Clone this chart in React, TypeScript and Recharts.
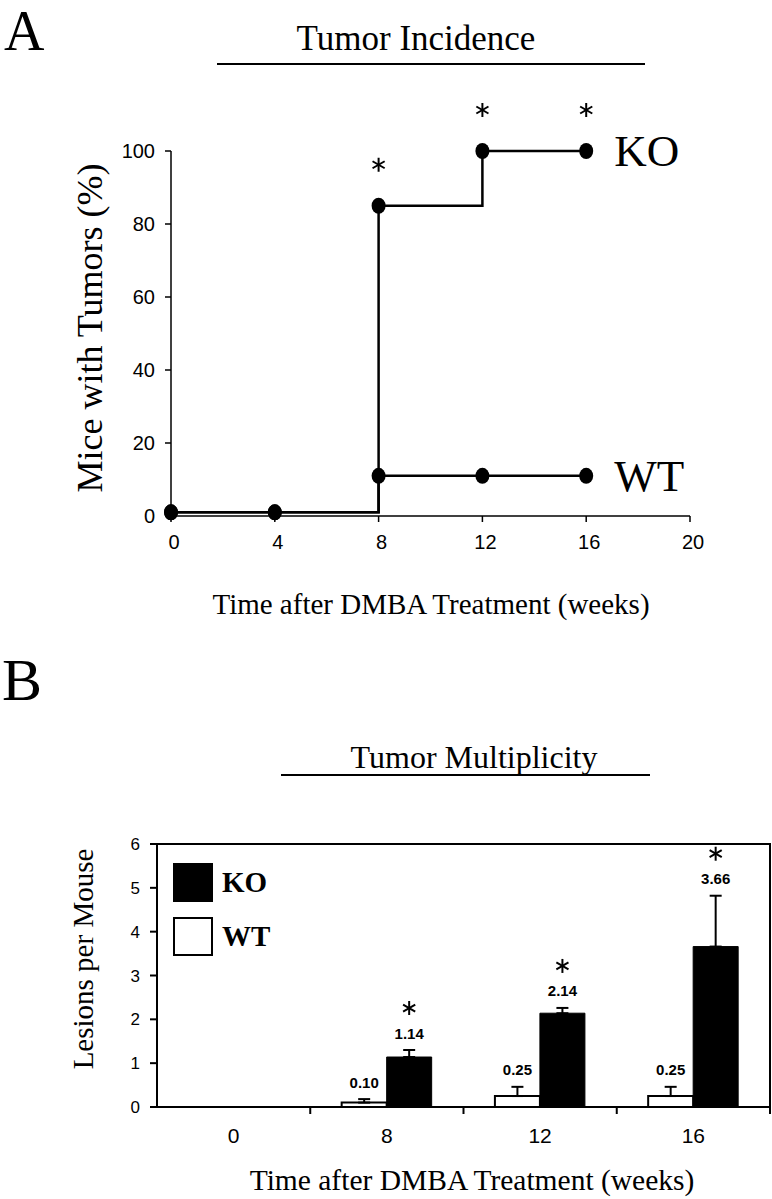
import React from 'react';
import { LineChart, Line, XAxis, YAxis, BarChart, Bar, ErrorBar, LabelList, ReferenceArea } from 'recharts';

// ---------- Panel A data ----------
const weeksA = [0, 4, 8, 12, 16];
const koIncidence = [1, 1, 85, 100, 100];
const wtIncidence = [1, 1, 11, 11, 11];
const koSignificantA = [false, false, true, true, true];
const xTicksA = [0, 4, 8, 12, 16, 20];
const yTicksA = [0, 20, 40, 60, 80, 100];

// ---------- Panel B data ----------
const categoriesB = ['0', '8', '12', '16'];
const koLesions = [0, 1.14, 2.14, 3.66];
const wtLesions = [0, 0.1, 0.25, 0.25];
const koLesionsErr = [0, 0.16, 0.12, 1.16];
const wtLesionsErr = [0, 0.08, 0.21, 0.21];
const koSignificantB = [false, true, true, true];
const yTicksB = [0, 1, 2, 3, 4, 5, 6];
const seriesNames = ['KO', 'WT'];

const dataA = weeksA.map((w, i) => ({ week: w, ko: koIncidence[i], wt: wtIncidence[i] }));
const dataB = categoriesB.map((c, i) => ({
  cat: c,
  wt: wtLesions[i],
  ko: koLesions[i],
  wtErr: [0, wtLesionsErr[i]],
  koErr: [0, koLesionsErr[i]],
}));

const SERIF = '"Liberation Serif", "Times New Roman", serif';
const SANS = '"Liberation Sans", Arial, sans-serif';

// chart B geometry
const B_HEIGHT = 559;
const B_MARGIN = { top: 204, right: 2, bottom: 52, left: 97 };
const B_XAXIS_H = 40;
const B_YMAX = 6;
const B_PX_PER_UNIT = (B_HEIGHT - B_MARGIN.top - B_MARGIN.bottom - B_XAXIS_H) / B_YMAX;

const Asterisk = ({ cx, cy, r = 7, sw = 2 }: any) => (
  <g stroke="#000" strokeWidth={sw}>
    {[90, 30, 150].map((a) => {
      const rad = (a * Math.PI) / 180;
      return (
        <line
          key={a}
          x1={cx - r * Math.cos(rad)}
          y1={cy - r * Math.sin(rad)}
          x2={cx + r * Math.cos(rad)}
          y2={cy + r * Math.sin(rad)}
        />
      );
    })}
  </g>
);

const renderDot = (props: any) => {
  const { cx, cy, index } = props;
  if (cx == null || cy == null) return <g key={index} />;
  return <ellipse key={index} cx={cx} cy={cy} rx={7} ry={8} fill="#000" />;
};

const makeEndLabel = (name: string, sig: boolean[] | null) => (props: any) => {
  const { x, y, value } = props;
  const i = weeksA.indexOf(Number(value));
  return (
    <g>
      {sig && sig[i] && <Asterisk cx={x} cy={y - 41} r={7} sw={2} />}
      {i === weeksA.length - 1 && (
        <text x={x + 28} y={y} dominantBaseline="central" fontFamily={SERIF} fontSize={45} fill="#000">
          {name}
        </text>
      )}
    </g>
  );
};

const makeBarLabel = (vals: number[], errs: number[], sig: boolean[] | null) => (props: any) => {
  const vb = props.viewBox || {};
  const x = props.x ?? vb.x;
  const y = props.y ?? vb.y;
  const width = props.width ?? vb.width;
  const i = categoriesB.indexOf(String(props.value));
  if (i < 0 || !vals[i]) return <g />;
  const errTop = y - errs[i] * B_PX_PER_UNIT;
  const cx = x + width / 2;
  const ly = errTop - 17;
  return (
    <g>
      <text x={cx} y={ly} textAnchor="middle" dominantBaseline="central" fontFamily={SANS} fontWeight="bold" fontSize={15} fill="#000">
        {vals[i].toFixed(2)}
      </text>
      {sig && sig[i] && <Asterisk cx={cx} cy={ly - 25} r={7} sw={2} />}
    </g>
  );
};

const CatTick = (props: any) => {
  const { x, y, payload } = props;
  const off = payload && payload.offset ? payload.offset : 0;
  return (
    <g>
      <line x1={x + off} y1={y - 7} x2={x + off} y2={y} stroke="#000" strokeWidth={2} />
      <text x={x} y={y + 21} textAnchor="middle" dominantBaseline="central" fontFamily={SANS} fontSize={21} fill="#000">
        {payload.value}
      </text>
    </g>
  );
};

const centered = (x: number, y: number, size: number, extra: any = {}): React.CSSProperties => ({
  position: 'absolute',
  left: x,
  top: y,
  transform: `translate(-50%, -50%)${extra.rotate ? ' rotate(-90deg)' : ''}`,
  fontFamily: SERIF,
  fontSize: size,
  lineHeight: 1,
  whiteSpace: 'nowrap',
  color: '#000',
  fontWeight: extra.bold ? 'bold' : 'normal',
});

export default function App() {
  return (
    <div style={{ position: 'absolute', left: 0, top: 0, width: 772, height: 1199, background: '#fff', overflow: 'hidden' }}>
      {/* Panel A */}
      <div style={{ position: 'absolute', left: 0, top: 0 }}>
        <LineChart width={772} height={640} data={dataA} margin={{ top: 151, right: 82, bottom: 94, left: 111 }}>
          <XAxis
            dataKey="week"
            type="number"
            domain={[0, 20]}
            ticks={xTicksA}
            height={30}
            tickSize={6}
            tickMargin={13}
            axisLine={{ stroke: '#000', strokeWidth: 1.5 }}
            tickLine={{ stroke: '#000', strokeWidth: 1.5 }}
            tick={{ fill: '#000', fontFamily: SANS, fontSize: 20, dx: 3 }}
          />
          <YAxis
            type="number"
            domain={[0, 100]}
            ticks={yTicksA}
            width={60}
            tickSize={6}
            tickMargin={10}
            axisLine={{ stroke: '#000', strokeWidth: 1.5 }}
            tickLine={{ stroke: '#000', strokeWidth: 1.5 }}
            tick={{ fill: '#000', fontFamily: SANS, fontSize: 20 }}
          />
          <Line
            dataKey="wt"
            type="stepAfter"
            stroke="#000"
            strokeWidth={2.5}
            dot={renderDot}
            activeDot={false}
            isAnimationActive={false}
          >
            <LabelList dataKey="week" content={makeEndLabel('WT', null)} />
          </Line>
          <Line
            dataKey="ko"
            type="stepAfter"
            stroke="#000"
            strokeWidth={2.5}
            dot={renderDot}
            activeDot={false}
            isAnimationActive={false}
          >
            <LabelList dataKey="week" content={makeEndLabel('KO', koSignificantA)} />
          </Line>
        </LineChart>
      </div>

      {/* Panel B */}
      <div style={{ position: 'absolute', left: 0, top: 640 }}>
        <BarChart
          width={772}
          height={B_HEIGHT}
          data={dataB}
          margin={B_MARGIN}
          barCategoryGap="20.5%"
          barGap={0}
        >
          <XAxis
            dataKey="cat"
            height={B_XAXIS_H}
            tickSize={7}
            tickMargin={0}
            tickLine={false}
            axisLine={{ stroke: '#000', strokeWidth: 2 }}
            tick={<CatTick />}
            interval={0}
          />
          <YAxis
            type="number"
            domain={[0, B_YMAX]}
            ticks={yTicksB}
            width={60}
            tickSize={7}
            tickMargin={10}
            axisLine={{ stroke: '#000', strokeWidth: 2 }}
            tickLine={{ stroke: '#000', strokeWidth: 2 }}
            tick={{ fill: '#000', fontFamily: SANS, fontSize: 17 }}
          />
          <ReferenceArea y1={0} y2={B_YMAX} fill="none" fillOpacity={0} stroke="#000" strokeWidth={2} ifOverflow="visible" />
          <Bar dataKey="wt" fill="#fff" stroke="#000" strokeWidth={2} isAnimationActive={false}>
            <ErrorBar dataKey="wtErr" width={6} stroke="#000" strokeWidth={2} direction="y" />
            <LabelList dataKey="cat" content={makeBarLabel(wtLesions, wtLesionsErr, null)} />
          </Bar>
          <Bar dataKey="ko" fill="#000" stroke="#000" strokeWidth={1} isAnimationActive={false}>
            <ErrorBar dataKey="koErr" width={6} stroke="#000" strokeWidth={2} direction="y" />
            <LabelList dataKey="cat" content={makeBarLabel(koLesions, koLesionsErr, koSignificantB)} />
          </Bar>
        </BarChart>
      </div>

      {/* Legend for panel B */}
      {seriesNames.map((name, i) => (
        <div key={name} style={{ position: 'absolute', left: 173, top: 863 + i * 54, height: 39, display: 'flex', alignItems: 'center' }}>
          <div
            style={{
              width: 40,
              height: 39,
              boxSizing: 'border-box',
              background: name === 'KO' ? '#000' : '#fff',
              border: '2px solid #000',
            }}
          />
          <span style={{ marginLeft: 9, fontFamily: SERIF, fontWeight: 'bold', fontSize: 29, lineHeight: 1, color: '#000' }}>{name}</span>
        </div>
      ))}

      {/* Texts */}
      <div style={{ position: 'absolute', left: 4, top: 3, fontFamily: SERIF, fontSize: 56, lineHeight: 1, color: '#000' }}>A</div>
      <div style={centered(416, 38, 35)}>Tumor Incidence</div>
      <div style={{ position: 'absolute', left: 217, top: 63, width: 428, height: 2, background: '#000' }} />
      <div style={centered(90, 328, 36, { rotate: true })}>Mice with Tumors (%)</div>
      <div style={centered(431, 604, 29)}>Time after DMBA Treatment (weeks)</div>

      <div style={centered(22, 680, 60)}>B</div>
      <div style={centered(474, 757, 32)}>Tumor Multiplicity</div>
      <div style={{ position: 'absolute', left: 281, top: 774, width: 369, height: 2, background: '#000' }} />
      <div style={centered(83, 959, 29, { rotate: true })}>Lesions per Mouse</div>
      <div style={centered(472, 1181, 29.5)}>Time after DMBA Treatment (weeks)</div>
    </div>
  );
}
